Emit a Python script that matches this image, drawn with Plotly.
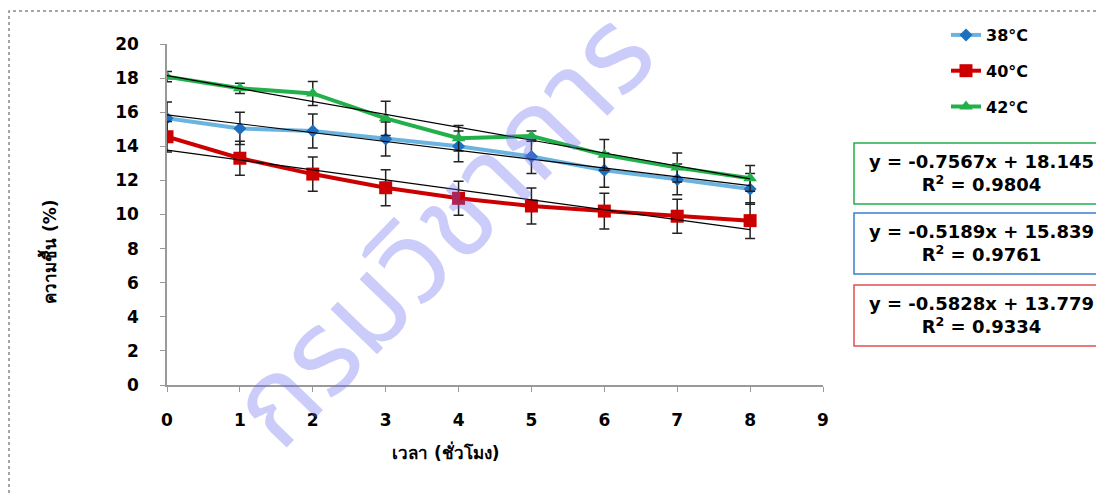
import plotly.graph_objects as go

hours = [0, 1, 2, 3, 4, 5, 6, 7, 8]
s38 = [15.65, 15.05, 14.9, 14.43, 14.0, 13.4, 12.6, 12.06, 11.5]
s40 = [14.56, 13.3, 12.37, 11.57, 10.95, 10.5, 10.2, 9.9, 9.64]
s42 = [18.08, 17.4, 17.1, 15.64, 14.47, 14.6, 13.5, 12.75, 12.12]
e38 = [0.95, 0.95, 1.0, 1.0, 0.9, 1.0, 1.0, 0.9, 0.9]
e40 = [0.9, 1.0, 1.0, 1.05, 1.0, 1.05, 1.05, 1.0, 1.05]
e42 = [0.3, 0.3, 0.7, 1.0, 0.75, 0.3, 0.9, 0.85, 0.75]
fit_slope = {"42": -0.7567, "38": -0.5189, "40": -0.5828}
fit_intercept = {"42": 18.145, "38": 15.839, "40": 13.779}
fit_r2 = {"42": 0.9804, "38": 0.9761, "40": 0.9334}
xticks = [0, 1, 2, 3, 4, 5, 6, 7, 8, 9]
yticks = [0, 2, 4, 6, 8, 10, 12, 14, 16, 18, 20]

FONT = "Tahoma, 'DejaVu Sans', 'Noto Sans', sans-serif"

# screen -> paper helpers (page has 8px body margin)
def px(x):
    return (x - 167) / 656

def py(y):
    return (385 - y) / 341

fig = go.Figure()

def series(name, y, err, lcolor, mcolor, symbol, size, lw):
    fig.add_trace(go.Scatter(
        x=hours, y=y, name=name, mode="lines+markers", legendgroup=name,
        line=dict(color=lcolor, width=lw),
        marker=dict(color=mcolor, symbol=symbol, size=size),
        error_y=dict(type="data", array=err, color="#222222", thickness=1.5, width=5),
    ))

series("<b>38°C</b>", s38, e38, "#6cb4e0", "#1f6fc0", "diamond", 10, 4)
series("<b>40°C</b>", s40, e40, "#cc0000", "#cc0000", "square", 13, 4)
series("<b>42°C</b>", s42, e42, "#22b04a", "#22b04a", "triangle-up", 12, 4)

# trendlines
for key in ["38", "40", "42"]:
    m, b = fit_slope[key], fit_intercept[key]
    xs = [hours[0], hours[-1]]
    fig.add_trace(go.Scatter(x=xs, y=[m * v + b for v in xs], mode="lines",
                             line=dict(color="black", width=1.2), showlegend=False,
                             hoverinfo="skip"))

annotations = []
shapes = []
# equation boxes
boxes = [("42", "#22b04a", 173), ("38", "#3a7fd0", 243), ("40", "#e05050", 315)]
for key, col, yc in boxes:
    m, b, r2 = fit_slope[key], fit_intercept[key], fit_r2[key]
    txt = f"<b>y = {m:.4f}x + {b:.3f}</b><br><b>R<sup>2</sup> = {r2:.4f}</b>"
    annotations.append(dict(xref="paper", yref="paper", x=px(981), y=py(yc),
                            xanchor="center", yanchor="middle",
                            text=txt, showarrow=False, align="center",
                            font=dict(family=FONT, size=18, color="black")))
    shapes.append(dict(type="rect", xref="paper", yref="paper",
                       x0=px(854), x1=px(1115),
                       y0=py(yc + 31), y1=py(yc - 30),
                       line=dict(color=col, width=1.5)))

# outer chart border
shapes.append(dict(type="rect", xref="paper", yref="paper",
                   x0=px(9), x1=px(1120), y0=py(520), y1=py(11),
                   line=dict(color="#888888", width=1.5, dash="dot")))

# axis titles
annotations.append(dict(xref="paper", yref="paper", x=px(445), y=py(452),
                        xanchor="center", yanchor="middle",
                        text="<b>เวลา (ชั่วโมง)</b>", showarrow=False,
                        font=dict(family=FONT, size=17, color="black")))
annotations.append(dict(xref="paper", yref="paper", x=px(48), y=py(252),
                        xanchor="center", yanchor="middle",
                        text="<b>ความชื้น (%)</b>", showarrow=False, textangle=-90,
                        font=dict(family=FONT, size=17, color="black")))

# watermark
annotations.append(dict(xref="paper", yref="paper", x=px(445), y=py(232),
                        xanchor="center", yanchor="middle",
                        text="กรมวิชาการ", showarrow=False, textangle=-46,
                        font=dict(family="'Noto Sans Thai', 'Noto Sans', sans-serif",
                                  size=118, color="rgba(110,110,240,0.35)")))

fig.update_layout(
    width=1096, height=488,
    margin=dict(l=159, r=281, t=36, b=111, autoexpand=False),
    paper_bgcolor="white", plot_bgcolor="white",
    font=dict(family=FONT, size=16, color="black"),
    showlegend=True,
    legend=dict(x=px(946), y=py(18), xanchor="left", yanchor="top",
                font=dict(family=FONT, size=16, color="black"),
                tracegroupgap=12, bgcolor="rgba(0,0,0,0)"),
    xaxis=dict(range=[0, 9], tickvals=xticks, ticktext=[f"<b>{v}</b>" for v in xticks],
               showgrid=False, zeroline=False, showline=True, linecolor="#999999",
               linewidth=1.5, ticks="outside", tickcolor="#999999", ticklen=5,
               ticklabelstandoff=14, tickfont=dict(size=17), automargin=False),
    yaxis=dict(range=[0, 20], tickvals=yticks, ticktext=[f"<b>{v}</b>" for v in yticks],
               showgrid=False, zeroline=False, showline=True, linecolor="#999999",
               linewidth=1.5, ticks="outside", tickcolor="#999999", ticklen=5,
               ticklabelstandoff=18, tickfont=dict(size=17), automargin=False),
    annotations=annotations, shapes=shapes,
)

fig.write_html("out.html")
